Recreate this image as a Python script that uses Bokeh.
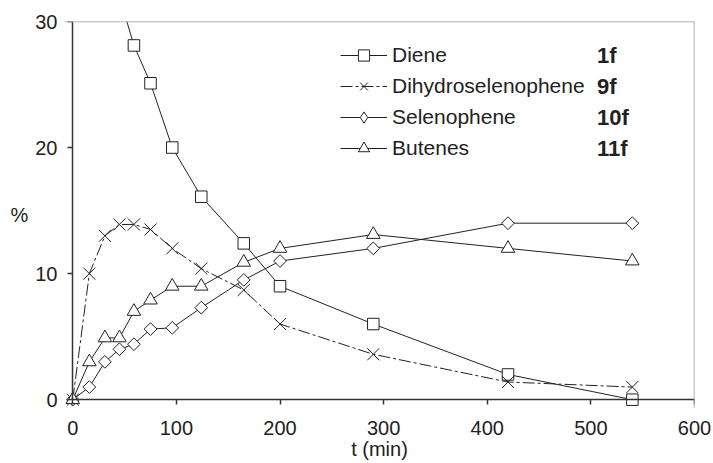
from bokeh.plotting import figure
from bokeh.models import Range1d, Span, Label, Legend, LegendItem, FixedTicker, LinearAxis
from bokeh.embed import file_html
from bokeh.resources import INLINE
import numpy as np

# ---- data ----
time_min = [0, 16, 31, 45, 59, 75, 96, 124, 165, 200, 290, 420, 540]
diene_time = [45, 59, 75, 96, 124, 165, 200, 290, 420, 540]
diene_pct = [32.0, 28.1, 25.1, 20.0, 16.1, 12.4, 9.0, 6.0, 2.0, 0.0]
dihydro_pct = [0, 10.0, 13.0, 13.9, 13.9, 13.5, 12.0, 10.4, 8.7, 6.0, 3.6, 1.4, 1.0]
seleno_pct = [0, 1.0, 3.0, 4.0, 4.4, 5.6, 5.7, 7.3, 9.5, 11.0, 12.0, 14.0, 14.0]
butenes_pct = [0, 3.0, 4.9, 4.9, 7.0, 7.9, 9.0, 9.0, 10.9, 12.0, 13.1, 12.0, 11.0]
series_names = ["Diene", "Dihydroselenophene", "Selenophene", "Butenes"]
compound_ids = ["1f", "9f", "10f", "11f"]
x_ticks = [0, 100, 200, 300, 400, 500, 600]
y_ticks = [0, 10, 20, 30]
x_title = "t (min)"
y_title = "%"

FONT = "Liberation Sans"
INK = "#222222"
AXIS = "#333333"

p = figure(width=713, height=463, output_backend="svg", toolbar_location=None,
           x_range=Range1d(-8, 600), y_range=Range1d(-0.7, 30),
           min_border_left=64, min_border_right=19, min_border_top=21,
           min_border_bottom=55)
p.outline_line_color = None
p.xgrid.visible = False
p.ygrid.visible = False

# axes drawn at data zero: line + outward ticks, no labels
for ax, ticks, bounds in ((p.xaxis[0], x_ticks, (0, 600)),
                          (p.yaxis[0], y_ticks, (0, 30))):
    ax.fixed_location = 0
    ax.bounds = bounds
    ax.ticker = FixedTicker(ticks=ticks)
    ax.axis_line_color = AXIS
    ax.axis_line_width = 1.5
    ax.major_tick_line_color = AXIS
    ax.major_tick_line_width = 1.5
    ax.major_tick_out = 5
    ax.major_tick_in = 0
    ax.minor_tick_out = 0
    ax.minor_tick_in = 0
    ax.major_label_overrides = {t: "" for t in ticks}
    ax.major_label_text_font_size = "1px"
    ax.major_label_standoff = 0

# label axes at frame edges: text only
def label_axis(ticks, standoff, title, title_standoff):
    ax = LinearAxis(ticker=FixedTicker(ticks=ticks))
    ax.axis_line_color = None
    ax.major_tick_line_color = None
    ax.minor_tick_line_color = None
    ax.major_tick_out = 0
    ax.major_tick_in = 0
    ax.minor_tick_out = 0
    ax.minor_tick_in = 0
    ax.major_label_text_font = FONT
    ax.major_label_text_font_size = "20px"
    ax.major_label_text_color = INK
    ax.major_label_standoff = standoff
    ax.axis_label = title
    ax.axis_label_text_font = FONT
    ax.axis_label_text_font_size = "20px"
    ax.axis_label_text_font_style = "normal"
    ax.axis_label_text_color = INK
    ax.axis_label_standoff = title_standoff
    return ax

xlab = label_axis(x_ticks, 12, x_title, 0)
ylab = label_axis(y_ticks, 7, y_title, 4)
ylab.axis_label_orientation = "horizontal"
p.add_layout(xlab, "below")
p.add_layout(ylab, "left")

# grey top and right borders
p.add_layout(Span(location=30, dimension="width", line_color="#999999", line_width=1.5))
p.add_layout(Span(location=600, dimension="height", line_color="#999999", line_width=1.5))

# ---- series ----
l1 = p.line(diene_time, diene_pct, line_color=INK, line_width=1)
l2 = p.line(time_min, dihydro_pct, line_color=INK, line_width=1, line_dash="12 3 3 3")
l3 = p.line(time_min, seleno_pct, line_color=INK, line_width=1)
l4 = p.line(time_min, butenes_pct, line_color=INK, line_width=1)

s1 = p.scatter(diene_time, diene_pct, marker="square", size=11.5,
               fill_color="white", line_color=INK, line_width=1)
s2 = p.scatter(time_min, dihydro_pct, marker="x", size=17,
               line_color=INK, line_width=1)
s3 = p.scatter(time_min, seleno_pct, marker="square", angle=np.pi / 4, size=9,
               fill_color="white", line_color=INK, line_width=1)
s3_leg = p.scatter(time_min, seleno_pct, marker="diamond", size=13,
                   fill_color="white", line_color=INK, line_width=1, visible=False)
s4 = p.scatter(time_min, butenes_pct, marker="triangle", size=13.5,
               fill_color="white", line_color=INK, line_width=1)

legend = Legend(items=[
    LegendItem(label=series_names[0], renderers=[l1, s1]),
    LegendItem(label=series_names[1], renderers=[l2, s2]),
    LegendItem(label=series_names[2], renderers=[l3, s3_leg]),
    LegendItem(label=series_names[3], renderers=[l4, s4]),
], location=(276, 246), glyph_width=47, glyph_height=28, label_height=28,
   spacing=3, padding=0, margin=0, border_line_alpha=0,
   background_fill_alpha=0, label_text_font=FONT,
   label_text_font_size="21px", label_text_color=INK, label_standoff=5)
p.add_layout(legend)

for cid, yy in zip(compound_ids, [27.3, 24.84, 22.38, 19.92]):
    p.add_layout(Label(x=506, y=yy, text=cid, text_font=FONT, text_font_size="22px",
                       text_font_style="bold", text_color=INK, text_baseline="middle"))

open("out.html", "w").write(file_html(p, INLINE))
